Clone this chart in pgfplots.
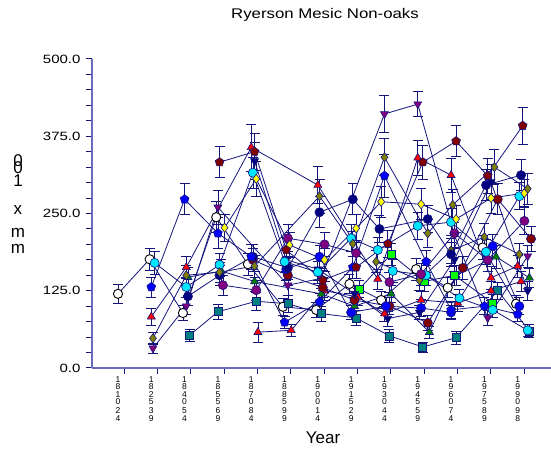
\documentclass[border=0pt]{standalone}
\usepackage{pgfplots}
\pgfplotsset{compat=1.18}
\usepackage{fontspec}
\setmainfont{Liberation Sans}

\definecolor{axcol}{RGB}{105,105,190}
\definecolor{lncol}{RGB}{20,20,125}
\definecolor{cyanm}{RGB}{0,230,255}
\definecolor{olivem}{RGB}{128,128,0}
\definecolor{purplem}{RGB}{128,0,128}
\definecolor{maroonm}{RGB}{128,0,0}
\definecolor{tealm}{RGB}{0,128,128}
\definecolor{limem}{RGB}{0,255,0}
\definecolor{yellowm}{RGB}{255,255,0}
\definecolor{navym}{RGB}{0,0,128}
\definecolor{greenm}{RGB}{0,128,0}

\pgfplotsset{
  ser/.style n args={3}{color=lncol, line width=0.8pt, mark=#1,
    mark options={solid, line width=0.6pt, draw=lncol, fill=#2, mark size=4.6pt, #3},
    error bars/.cd, y dir=both, y explicit,
    error bar style={lncol, line width=0.7pt},
    error mark options={rotate=90, mark size=5pt, lncol, line width=0.7pt}},
}

\begin{document}
\begin{tikzpicture}
\useasboundingbox (-92pt,-86pt) rectangle (459pt,368pt);
\begin{axis}[
  at={(0,0)}, anchor=south west,
  scale only axis, width=459pt, height=309pt,
  xmin=-0.78, xmax=13, ymin=0, ymax=500,
  axis lines=left,
  axis line style={-, axcol, line width=1.5pt},
  xtick={0,...,12},
  xticklabels={{1\\8\\1\\0\\[1.5pt]2\\4},{1\\8\\2\\5\\[1.5pt]3\\9},{1\\8\\4\\0\\[1.5pt]5\\4},
    {1\\8\\5\\5\\[1.5pt]6\\9},{1\\8\\7\\0\\[1.5pt]8\\4},{1\\8\\8\\5\\[1.5pt]9\\9},
    {1\\9\\0\\0\\[1.5pt]1\\4},{1\\9\\1\\5\\[1.5pt]2\\9},{1\\9\\3\\0\\[1.5pt]4\\4},
    {1\\9\\4\\5\\[1.5pt]5\\9},{1\\9\\6\\0\\[1.5pt]7\\4},{1\\9\\7\\5\\[1.5pt]8\\9},
    {1\\9\\9\\0\\[1.5pt]9\\8}},
  major x tick style={draw=none},
  minor xtick={0.19,1.19,2.19,3.19,4.19,5.19,6.19,7.19,8.19,9.19,10.19,11.19,12.19},
  ytick={0,125,250,375,500},
  minor y tick num=4,
  tick align=outside,
  major tick length=6pt, minor tick length=6pt,
  tick style={lncol, line width=1pt},
  xticklabel style={align=center, font=\fontsize{8.5}{7.6}\selectfont, inner sep=1pt, yshift=-1pt},
  yticklabel style={font=\fontsize{12}{14}\selectfont, xshift=-2pt},
  yticklabel={\scalebox{1.25}[1]{\pgfmathprintnumber{\tick}}},
  y tick label style={/pgf/number format/.cd, fixed, fixed zerofill, precision=1, assume math mode=true},
  clip=false,
]
% open circle
\addplot[ser={*}{white}{draw=black, line width=0.9pt}] coordinates {
 (0,120) +- (0,15) (0.95,176) +- (0,18) (1.95,89) +- (0,12) (2.95,244) +- (0,25)
 (3.9,168) +- (0,18) (4.95,99) +- (0,14) (5.95,94) +- (0,12) (6.95,136) +- (0,16)
 (7.9,110) +- (0,14) (8.95,160) +- (0,18) (9.9,130) +- (0,16) (10.95,195) +- (0,20)
 (11.95,104) +- (0,14)};
% teal square
\addplot[ser={square*}{tealm}{mark size=4pt}] coordinates {
 (2.15,53) +- (0,10) (3.0,91) +- (0,12) (4.15,108) +- (0,14) (5.1,104) +- (0,14)
 (6.1,88) +- (0,12) (7.15,81) +- (0,12) (8.15,52) +- (0,10) (9.15,34) +- (0,8)
 (10.15,49) +- (0,10) (11.4,125) +- (0,14) (12.35,60) +- (0,10)};
% red triangle (low)
\addplot[ser={triangle*}{red}{}] coordinates {
 (4.2,58) +- (0,16) (5.2,61) +- (0,10) (6.2,125) +- (0,16) (7.2,115) +- (0,14)
 (8.0,88) +- (0,12) (9.1,110) +- (0,14) (10.2,105) +- (0,14) (11.2,125) +- (0,16)
 (12.1,140) +- (0,16)};
% green triangle
\addplot[ser={triangle*}{greenm}{}] coordinates {
 (2.1,147) +- (0,16) (3.1,157) +- (0,18) (4.1,140) +- (0,16) (6.1,120) +- (0,14)
 (7.1,100) +- (0,14) (8.2,120) +- (0,14) (9.35,58) +- (0,10) (10.15,150) +- (0,16)
 (11.35,180) +- (0,18) (12.35,146) +- (0,16)};
% maroon circle
\addplot[ser={*}{maroonm}{}] coordinates {
 (4.05,175) +- (0,18) (5.1,150) +- (0,16) (6.15,130) +- (0,16) (7.1,110) +- (0,14)
 (8.15,100) +- (0,14) (9.3,73) +- (0,12) (10.35,162) +- (0,18) (11.4,273) +- (0,25)
 (12.4,209) +- (0,20)};
% blue circle
\addplot[ser={*}{blue}{}] coordinates {
 (5.05,160) +- (0,18) (6.05,180) +- (0,18) (7.0,90) +- (0,12) (8.05,100) +- (0,14)
 (9.1,97) +- (0,14) (10.0,90) +- (0,12) (11.25,197) +- (0,20) (12.05,100) +- (0,14)};
% green square
\addplot[ser={square*}{limem}{mark size=4pt}] coordinates {
 (7.25,128) +- (0,14) (8.2,184) +- (0,18) (9.2,140) +- (0,16) (10.1,150) +- (0,16)
 (11.25,105) +- (0,14)};
% cyan circle 2
\addplot[ser={*}{cyanm}{}] coordinates {
 (8.25,157) +- (0,18) (9.25,150) +- (0,16) (10.25,113) +- (0,14) (11.25,94) +- (0,12)
 (12.3,61) +- (0,10)};
% olive diamond 2
\addplot[ser={diamond*}{olivem}{}] coordinates {
 (7.75,172) +- (0,18) (9.05,142) +- (0,16) (10.0,190) +- (0,20) (11.0,212) +- (0,22)
 (12.05,184) +- (0,18)};
% navy down triangle
\addplot[ser={triangle*}{navym}{rotate=180}] coordinates {
 (4.1,335) +- (0,30) (5.05,175) +- (0,18) (6.0,160) +- (0,18) (7.1,120) +- (0,14)
 (8.1,80) +- (0,12) (9.05,90) +- (0,12) (10.1,175) +- (0,18) (11.2,301) +- (0,28)
 (12.3,125) +- (0,16)};
% purple circle
\addplot[ser={*}{purplem}{}] coordinates {
 (3.15,134) +- (0,16) (4.15,126) +- (0,16) (5.1,210) +- (0,22) (6.2,200) +- (0,20)
 (7.15,186) +- (0,20) (8.15,139) +- (0,16) (9.1,152) +- (0,18) (10.1,218) +- (0,22)
 (11.1,175) +- (0,18) (12.2,238) +- (0,22)};
% navy circle
\addplot[ser={*}{navym}{}] coordinates {
 (2.1,116) +- (0,14) (3.05,150) +- (0,16) (4.05,180) +- (0,20) (5.1,162) +- (0,18)
 (6.05,252) +- (0,25) (7.05,273) +- (0,25) (7.85,225) +- (0,22) (9.3,241) +- (0,22)
 (10.0,184) +- (0,20) (11.05,296) +- (0,25) (12.1,312) +- (0,25)};
% cyan circle
\addplot[ser={*}{cyanm}{}] coordinates {
 (1.1,170) +- (0,18) (2.05,131) +- (0,16) (3.05,167) +- (0,18) (4.05,316) +- (0,25)
 (5.0,172) +- (0,18) (6.0,155) +- (0,18) (7.0,210) +- (0,22) (7.8,191) +- (0,20)
 (9.0,230) +- (0,22) (10.0,236) +- (0,22) (11.05,188) +- (0,20) (12.05,278) +- (0,22)};
% yellow diamond
\addplot[ser={diamond*}{yellowm}{}] coordinates {
 (3.2,227) +- (0,22) (4.15,306) +- (0,28) (5.15,199) +- (0,20) (6.2,175) +- (0,18)
 (7.15,226) +- (0,22) (7.9,269) +- (0,25) (9.1,265) +- (0,25) (10.15,241) +- (0,22)
 (11.2,275) +- (0,25) (12.2,283) +- (0,22)};
% olive diamond
\addplot[ser={diamond*}{olivem}{}] coordinates {
 (1.05,48) +- (0,10) (2.05,150) +- (0,16) (3.05,155) +- (0,16) (4.1,165) +- (0,18)
 (6.05,278) +- (0,28) (7.05,201) +- (0,20) (8.0,341) +- (0,30) (9.3,218) +- (0,22)
 (10.05,264) +- (0,25) (11.3,325) +- (0,28) (12.3,290) +- (0,25)};
% purple down triangle
\addplot[ser={triangle*}{purplem}{rotate=180}] coordinates {
 (1.05,32) +- (0,8) (2.05,100) +- (0,14) (3.0,260) +- (0,28) (5.1,134) +- (0,16)
 (6.1,145) +- (0,16) (8.0,411) +- (0,30) (9.0,427) +- (0,20) (10.1,215) +- (0,20)
 (11.1,81) +- (0,12) (12.3,181) +- (0,18)};
% red triangle
\addplot[ser={triangle*}{red}{}] coordinates {
 (1.0,83) +- (0,14) (2.05,163) +- (0,18) (4.0,357) +- (0,38) (6.0,296) +- (0,30)
 (7.8,144) +- (0,16) (9.0,340) +- (0,28) (10.0,312) +- (0,28) (11.2,146) +- (0,18)
 (12.0,165) +- (0,18)};
% blue pentagon
\addplot[ser={pentagon*}{blue}{}] coordinates {
 (1.0,131) +- (0,16) (2.0,273) +- (0,25) (3.0,218) +- (0,25) (4.0,180) +- (0,20)
 (5.0,74) +- (0,10) (6.05,107) +- (0,14) (7.05,163) +- (0,18) (8.0,311) +- (0,35)
 (9.25,172) +- (0,18) (10.0,94) +- (0,14) (11.0,100) +- (0,14) (12.0,87) +- (0,12)};
% maroon pentagon
\addplot[ser={pentagon*}{maroonm}{}] coordinates {
 (3.05,333) +- (0,25) (4.1,350) +- (0,30) (5.05,191) +- (0,20) (6.15,142) +- (0,16)
 (7.15,163) +- (0,18) (8.1,201) +- (0,22) (9.15,333) +- (0,28) (10.15,367) +- (0,25)
 (11.1,311) +- (0,28) (12.15,392) +- (0,30)};
\end{axis}
% title, axis titles
\node[font=\fontsize{14}{16}\selectfont] at (233pt,353pt) {\scalebox{1.2}[1]{Ryerson Mesic Non-oaks}};
\node[font=\fontsize{17}{19}\selectfont] at (231pt,-70pt) {Year};
\begin{scope}[every node/.style={font=\fontsize{17}{19}\selectfont, inner sep=0pt}]
\node at (-74pt,207pt) {0};
\node at (-74pt,200pt) {0};
\node at (-74pt,187pt) {1};
\node at (-74pt,158pt) {x};
\node at (-74pt,135pt) {m};
\node at (-74pt,119pt) {m};
\end{scope}
\end{tikzpicture}
\end{document}
